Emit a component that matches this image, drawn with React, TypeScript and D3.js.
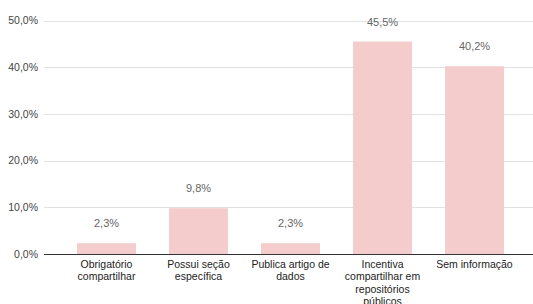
import { useEffect, useRef } from "react";
import * as d3 from "d3";

// data
const categories = [
  "Obrigatório compartilhar",
  "Possui seção específica",
  "Publica artigo de dados",
  "Incentiva compartilhar em repositórios públicos",
  "Sem informação",
];
const categoryLines = [
  ["Obrigatório", "compartilhar"],
  ["Possui seção", "específica"],
  ["Publica artigo de", "dados"],
  ["Incentiva", "compartilhar em", "repositórios", "públicos"],
  ["Sem informação"],
];
const values = [2.3, 9.8, 2.3, 45.5, 40.2];
const yTicks = [0, 10, 20, 30, 40, 50];

const W = 533;
const H = 304;

const fmt = (v: number) => v.toFixed(1).replace(".", ",") + "%";

export default function App() {
  const ref = useRef<SVGSVGElement>(null);

  useEffect(() => {
    const svg = d3.select(ref.current);
    svg.selectAll("*").remove();

    const font = "Arial, 'Liberation Sans', sans-serif";

    const y = d3.scaleLinear().domain([0, 50]).range([254, 20.5]);
    const x = d3
      .scaleBand()
      .domain(categories)
      .range([60.5, 520.5])
      .paddingInner(0.36)
      .paddingOuter(0.18);

    // gridlines
    svg
      .append("g")
      .selectAll("line")
      .data(yTicks.filter((d) => d > 0))
      .enter()
      .append("line")
      .attr("x1", 44)
      .attr("x2", W)
      .attr("y1", (d) => Math.round(y(d)) + 0.5)
      .attr("y2", (d) => Math.round(y(d)) + 0.5)
      .attr("stroke", "#e2e2e2")
      .attr("stroke-width", 1);

    // y tick labels
    svg
      .append("g")
      .selectAll("text")
      .data(yTicks)
      .enter()
      .append("text")
      .attr("x", 38)
      .attr("y", (d) => y(d))
      .attr("dy", "0.35em")
      .attr("text-anchor", "end")
      .attr("font-family", font)
      .attr("font-size", 10.5)
      .attr("fill", "#444")
      .text((d) => fmt(d));

    // bars
    svg
      .append("g")
      .selectAll("rect")
      .data(values)
      .enter()
      .append("rect")
      .attr("x", (d, i) => x(categories[i])!)
      .attr("y", (d) => y(d))
      .attr("width", x.bandwidth())
      .attr("height", (d) => y(0) - y(d))
      .attr("fill", "#f4cccc");

    // value labels
    svg
      .append("g")
      .selectAll("text")
      .data(values)
      .enter()
      .append("text")
      .attr("x", (d, i) => x(categories[i])! + x.bandwidth() / 2)
      .attr("y", (d) => y(d) - 16)
      .attr("text-anchor", "middle")
      .attr("font-family", font)
      .attr("font-size", 11)
      .attr("fill", "#666")
      .text((d) => fmt(d));

    // baseline
    svg
      .append("line")
      .attr("x1", 44)
      .attr("x2", W)
      .attr("y1", Math.round(y(0)) + 0.5)
      .attr("y2", Math.round(y(0)) + 0.5)
      .attr("stroke", "#333")
      .attr("stroke-width", 1);

    // category labels
    const cat = svg
      .append("g")
      .selectAll("text")
      .data(categories)
      .enter()
      .append("text")
      .attr("x", (d) => x(d)! + x.bandwidth() / 2)
      .attr("y", 268)
      .attr("text-anchor", "middle")
      .attr("font-family", font)
      .attr("font-size", 10.5)
      .attr("fill", "#222");
    cat
      .selectAll("tspan")
      .data((d, i) => categoryLines[i].map((l) => ({ l, cx: x(d)! + x.bandwidth() / 2 })))
      .enter()
      .append("tspan")
      .attr("x", (d) => d.cx)
      .attr("dy", (d, i) => (i === 0 ? 0 : 12.4))
      .text((d) => d.l);
  }, []);

  return (
    <svg
      ref={ref}
      width={W}
      height={H}
      style={{ position: "absolute", left: 0, top: 0, background: "#fff" }}
    ></svg>
  );
}
